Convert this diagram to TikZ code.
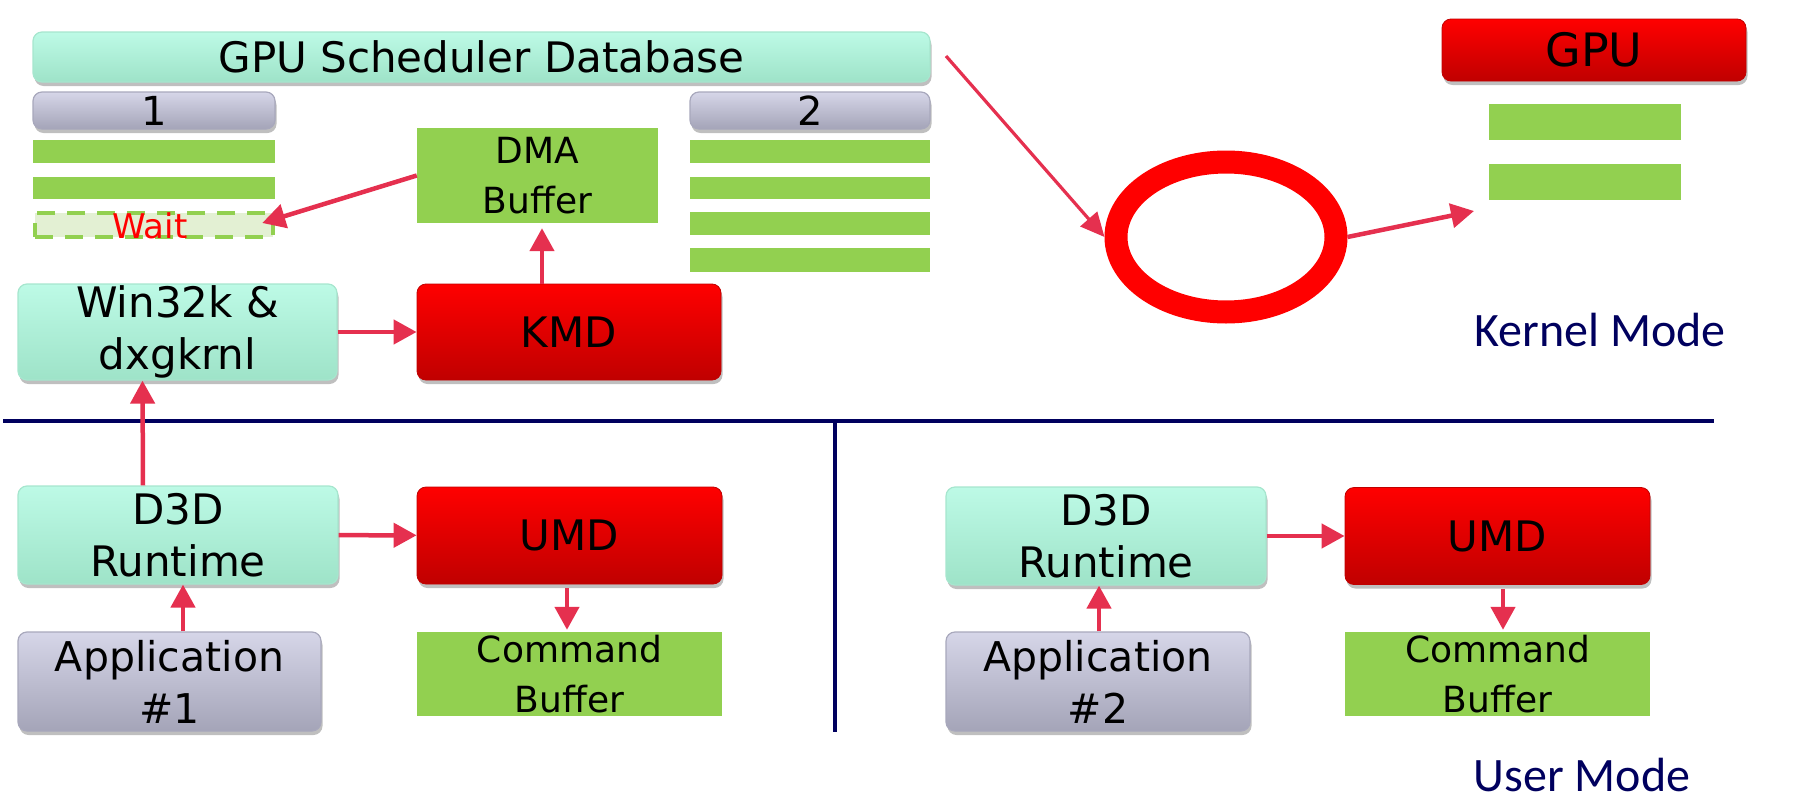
\documentclass[tikz,border=0pt]{standalone}
\usepackage{fontspec}
\setmainfont{DejaVu Sans}
\newfontfamily\carlito{Carlito}
\usetikzlibrary{arrows.meta,shapes.geometric,shadows}
\definecolor{mintT}{HTML}{BDFAE6}
\definecolor{mintB}{HTML}{9EE3C8}
\definecolor{mintD}{HTML}{A6E6CE}
\definecolor{greyT}{HTML}{D6D6E8}
\definecolor{greyB}{HTML}{A4A4B8}
\definecolor{greyD}{HTML}{A8A8BC}
\definecolor{redT}{HTML}{FF0000}
\definecolor{redB}{HTML}{C00000}
\definecolor{barG}{HTML}{92D050}
\definecolor{waitF}{HTML}{E3F0D3}
\definecolor{navy}{HTML}{00005E}
\definecolor{arrC}{HTML}{E5304F}
\tikzset{
  boxbase/.style={rounded corners=9pt, inner sep=0pt, align=center,
    drop shadow={shadow xshift=1.5pt, shadow yshift=-4pt, opacity=0.25, fill=black}},
  mint/.style={boxbase, draw=mintD, line width=1.2pt, top color=mintT, bottom color=mintB},
  greybox/.style={boxbase, draw=greyD, line width=1.2pt, top color=greyT, bottom color=greyB},
  redbox/.style={boxbase, draw=redB, line width=0.8pt, top color=redT, bottom color=redB},
  bar/.style={fill=barG, inner sep=0pt, draw=none},
  big/.style={font=\fontsize{42}{52}\selectfont},
  mid/.style={font=\fontsize{36}{50}\selectfont},
  arr/.style={draw=arrC, line width=4.5pt, -{Triangle[length=23pt,width=24pt]}},
  thinarr/.style={draw=arrC, line width=3.2pt, -{Triangle[length=24pt,width=22pt]}},
  modetxt/.style={text=navy, font=\carlito\fontsize{48}{56}\selectfont, inner sep=0pt, anchor=base},
  divider/.style={draw=navy, line width=4pt},
}
\begin{document}
\begin{tikzpicture}[x=1pt,y=-1pt]
\useasboundingbox (0,0) rectangle (1804,803);
% Kernel part
\node[mint, minimum width=897pt, minimum height=50pt, font=\fontsize{42}{50}\selectfont] (db) at (481.5,57) {GPU Scheduler Database};
\node[greybox, minimum width=242pt, minimum height=37pt, font=\fontsize{40}{40}\selectfont] (one) at (154,110.5) {1};
\node[greybox, minimum width=240pt, minimum height=37pt, font=\fontsize{40}{40}\selectfont] (two) at (810,110.5) {2};
\node[bar, minimum width=242pt, minimum height=23pt] (lbar1) at (154,151.5) {};
\node[bar, minimum width=242pt, minimum height=22pt] (lbar2) at (154,188) {};
\node[fill=waitF, draw=barG, line width=4.5pt, dash pattern=on 18pt off 12pt, inner sep=0pt, minimum width=238pt, minimum height=24pt] (waitbox) at (154,225) {};
\node[text=red, font=\fontsize{34}{40}\selectfont, inner sep=0pt, anchor=base] (waitlbl) at (150,238) {Wait};
\node[bar, minimum width=240pt, minimum height=23pt] (rbar1) at (810,151.5) {};
\node[bar, minimum width=240pt, minimum height=22pt] (rbar2) at (810,188) {};
\node[bar, minimum width=240pt, minimum height=23pt] (rbar3) at (810,223.5) {};
\node[bar, minimum width=240pt, minimum height=24pt] (rbar4) at (810,260) {};
\node[bar, mid, align=center, minimum width=241pt, minimum height=95pt] (dma) at (537.5,175.5) {DMA\\Buffer};
\node[mint, big, minimum width=319pt, minimum height=96pt] (win) at (177.5,332) {Win32k \&\\dxgkrnl};
\node[redbox, font=\fontsize{42}{50}\selectfont, minimum width=304pt, minimum height=96pt] (kmd) at (569,332) {KMD};
\node[ellipse, draw=red, line width=23pt, minimum width=220pt, minimum height=150pt, inner sep=0pt] (ring) at (1226,237) {};
\node[redbox, font=\fontsize{46}{50}\selectfont, minimum width=304pt, minimum height=62pt] (gpu) at (1594,50) {GPU};
\node[bar, minimum width=192pt, minimum height=36pt] (gbar1) at (1585,122) {};
\node[bar, minimum width=192pt, minimum height=36pt] (gbar2) at (1585,182) {};
\node[modetxt] (kernel) at (1600,346) {Kernel Mode};
% dividers
\draw[divider] (3,421) -- (1714,421);
\draw[divider, line width=3.2pt] (835,421) -- (835,732);
% User part left
\node[mint, big, minimum width=320pt, minimum height=98pt] (d3d1) at (178,535) {D3D\\Runtime};
\node[redbox, font=\fontsize{42}{50}\selectfont, minimum width=305pt, minimum height=97pt] (umd1) at (569.5,535.5) {UMD};
\node[greybox, font=\fontsize{41}{52}\selectfont, minimum width=303pt, minimum height=99pt] (app1) at (169.5,681.5) {Application\\\#1};
\node[bar, mid, align=center, minimum width=305pt, minimum height=84pt] (cb1) at (569.5,674) {Command\\Buffer};
% User part right
\node[mint, big, minimum width=320pt, minimum height=98pt] (d3d2) at (1106,536) {D3D\\Runtime};
\node[redbox, font=\fontsize{42}{50}\selectfont, minimum width=305pt, minimum height=97pt] (umd2) at (1497.5,536) {UMD};
\node[greybox, font=\fontsize{41}{52}\selectfont, minimum width=304pt, minimum height=99pt] (app2) at (1098,681.5) {Application\\\#2};
\node[bar, mid, align=center, minimum width=305pt, minimum height=84pt] (cb2) at (1497.5,674) {Command\\Buffer};
\node[modetxt] (user) at (1582,791) {User Mode};
% connectors
\coordinate (dbout) at (946,56);
\coordinate (gpuin) at (1474,211);
\draw[arr] (win) -- (kmd);
\draw[arr, shorten >=5pt] ([xshift=4.5pt]dma.south |- kmd.north) -- ([xshift=4.5pt]dma.south);
\draw[arr] (dma.west) -- ([xshift=-13pt,yshift=2pt]waitbox.east);
\draw[arr] ([xshift=-35pt]d3d1.north) -- ([xshift=-35pt]win.south);
\draw[arr] ([xshift=13.5pt]app1.north) -- ([xshift=5pt]d3d1.south);
\draw[arr] (d3d1) -- (umd1);
\draw[arr, shorten >=2pt] ([xshift=-2.5pt,yshift=-4pt]umd1.south) -- ([xshift=-2.5pt]cb1.north);
\draw[arr] ([xshift=1pt]app2.north) -- ([xshift=-7pt]d3d2.south);
\draw[arr] (d3d2) -- (umd2);
\draw[arr, shorten >=2pt] ([xshift=5.5pt,yshift=-4pt]umd2.south) -- ([xshift=5.5pt]cb2.north);
\draw[thinarr] (dbout) -- (ring.west);
\draw[arr] (ring.east) -- (gpuin);
\end{tikzpicture}
\end{document}
